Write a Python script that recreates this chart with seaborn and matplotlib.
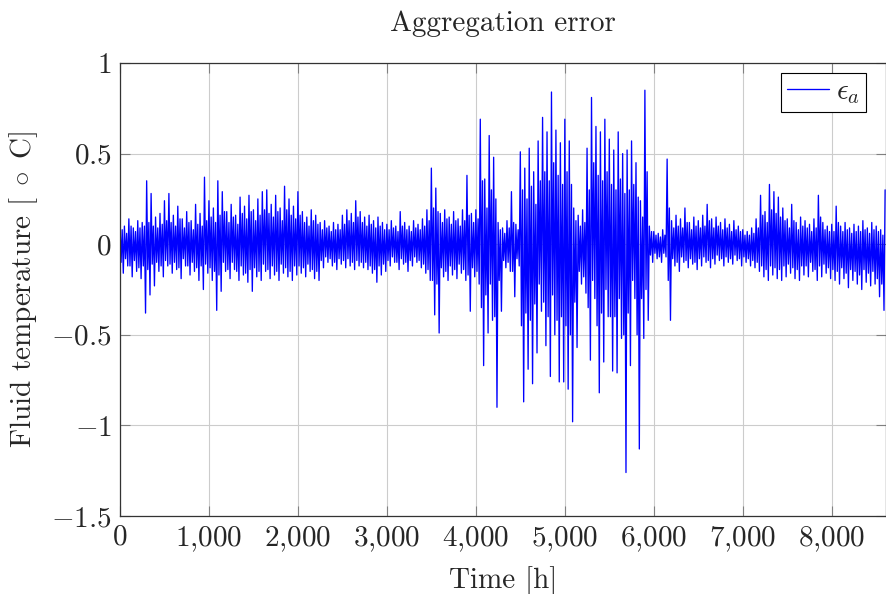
import numpy as np
import pandas as pd
import matplotlib
matplotlib.use("Agg")
import matplotlib.pyplot as plt
import seaborn as sns
from matplotlib.ticker import FixedLocator, FuncFormatter

# aggregation error per 50 h block:
# outer swings (hi / lo) and the bulk band edges (in_hi / in_lo)
hi_vals = [
    0.12, 0.10, 0.14, 0.09, 0.13, 0.12, 0.35, 0.28, 0.15, 0.17,
    0.24, 0.28, 0.16, 0.21, 0.14, 0.18, 0.13, 0.22, 0.17, 0.37,
    0.24, 0.20, 0.35, 0.29, 0.18, 0.22, 0.16, 0.26, 0.21, 0.27,
    0.19, 0.25, 0.29, 0.30, 0.22, 0.27, 0.20, 0.32, 0.25, 0.21,
    0.29, 0.18, 0.15, 0.19, 0.16, 0.12, 0.13, 0.10, 0.12, 0.11,
    0.16, 0.19, 0.17, 0.24, 0.18, 0.15, 0.16, 0.13, 0.15, 0.12,
    0.11, 0.13, 0.10, 0.18, 0.12, 0.10, 0.13, 0.11, 0.14, 0.19,
    0.42, 0.31, 0.17, 0.19, 0.15, 0.18, 0.14, 0.19, 0.38, 0.17,
    0.19, 0.69, 0.36, 0.60, 0.48, 0.12, 0.09, 0.13, 0.29, 0.11,
    0.51, 0.42, 0.53, 0.40, 0.57, 0.70, 0.62, 0.84, 0.63, 0.56,
    0.69, 0.57, 0.20, 0.16, 0.19, 0.53, 0.81, 0.65, 0.62, 0.69,
    0.58, 0.52, 0.62, 0.50, 0.52, 0.57, 0.45, 0.24, 0.85, 0.10,
    0.07, 0.06, 0.08, 0.47, 0.13, 0.16, 0.14, 0.20, 0.12, 0.15,
    0.13, 0.16, 0.22, 0.14, 0.15, 0.12, 0.14, 0.11, 0.13, 0.10,
    0.08, 0.07, 0.09, 0.14, 0.27, 0.18, 0.33, 0.29, 0.26, 0.20,
    0.14, 0.22, 0.12, 0.15, 0.13, 0.11, 0.14, 0.27, 0.12, 0.10,
    0.11, 0.21, 0.10, 0.12, 0.09, 0.11, 0.10, 0.13, 0.09, 0.12,
    0.10, 0.08,
]
lo_vals = [
    -0.16, -0.12, -0.18, -0.15, -0.19, -0.38, -0.28, -0.23, -0.15, -0.18,
    -0.12, -0.16, -0.14, -0.19, -0.12, -0.17, -0.15, -0.20, -0.25, -0.16,
    -0.20, -0.365, -0.26, -0.15, -0.19, -0.14, -0.20, -0.17, -0.21, -0.26,
    -0.18, -0.20, -0.15, -0.19, -0.17, -0.20, -0.16, -0.18, -0.20, -0.17,
    -0.16, -0.18, -0.15, -0.19, -0.20, -0.13, -0.10, -0.12, -0.14, -0.11,
    -0.13, -0.12, -0.14, -0.12, -0.13, -0.14, -0.16, -0.21, -0.17, -0.15,
    -0.12, -0.10, -0.14, -0.11, -0.15, -0.12, -0.10, -0.13, -0.16, -0.20,
    -0.39, -0.49, -0.18, -0.20, -0.17, -0.19, -0.16, -0.20, -0.37, -0.18,
    -0.22, -0.67, -0.49, -0.42, -0.90, -0.37, -0.13, -0.15, -0.29, -0.12,
    -0.87, -0.69, -0.77, -0.60, -0.37, -0.56, -0.73, -0.50, -0.76, -0.76,
    -0.80, -0.98, -0.57, -0.22, -0.27, -0.64, -0.30, -0.82, -0.65, -0.40,
    -0.70, -0.71, -0.52, -1.26, -0.67, -0.30, -1.13, -0.52, -0.42, -0.10,
    -0.08, -0.10, -0.07, -0.42, -0.12, -0.15, -0.10, -0.13, -0.11, -0.14,
    -0.12, -0.10, -0.13, -0.11, -0.09, -0.12, -0.10, -0.11, -0.09, -0.12,
    -0.10, -0.12, -0.13, -0.15, -0.18, -0.20, -0.17, -0.19, -0.20, -0.18,
    -0.16, -0.19, -0.20, -0.17, -0.18, -0.15, -0.20, -0.18, -0.16, -0.19,
    -0.20, -0.22, -0.19, -0.24, -0.20, -0.22, -0.25, -0.21, -0.23, -0.22,
    -0.29, -0.365,
]
in_hi_vals = [
    0.08, 0.06, 0.10, 0.07, 0.09, 0.10, 0.12, 0.10, 0.09, 0.11,
    0.13, 0.12, 0.10, 0.14, 0.09, 0.12, 0.08, 0.11, 0.10, 0.13,
    0.15, 0.12, 0.16, 0.18, 0.12, 0.15, 0.11, 0.17, 0.14, 0.18,
    0.13, 0.16, 0.19, 0.17, 0.15, 0.18, 0.13, 0.19, 0.16, 0.14,
    0.16, 0.12, 0.10, 0.13, 0.11, 0.08, 0.09, 0.07, 0.08, 0.08,
    0.11, 0.13, 0.12, 0.15, 0.12, 0.10, 0.11, 0.09, 0.10, 0.08,
    0.08, 0.09, 0.07, 0.10, 0.08, 0.07, 0.09, 0.08, 0.10, 0.13,
    0.20, 0.18, 0.12, 0.14, 0.11, 0.13, 0.10, 0.13, 0.16, 0.12,
    0.14, 0.35, 0.20, 0.30, 0.25, 0.08, 0.06, 0.09, 0.12, 0.08,
    0.30, 0.25, 0.32, 0.22, 0.35, 0.40, 0.35, 0.45, 0.38, 0.33,
    0.40, 0.33, 0.13, 0.10, 0.12, 0.30, 0.45, 0.38, 0.35, 0.40,
    0.33, 0.30, 0.36, 0.28, 0.30, 0.33, 0.26, 0.15, 0.40, 0.07,
    0.05, 0.04, 0.05, 0.20, 0.09, 0.10, 0.09, 0.12, 0.08, 0.10,
    0.09, 0.10, 0.13, 0.09, 0.10, 0.08, 0.09, 0.07, 0.08, 0.07,
    0.05, 0.05, 0.06, 0.09, 0.16, 0.12, 0.19, 0.17, 0.15, 0.13,
    0.09, 0.13, 0.08, 0.10, 0.09, 0.07, 0.09, 0.15, 0.08, 0.07,
    0.07, 0.12, 0.07, 0.08, 0.06, 0.07, 0.07, 0.08, 0.06, 0.08,
    0.07, 0.05,
]
in_lo_vals = [
    -0.10, -0.08, -0.12, -0.09, -0.13, -0.12, -0.14, -0.11, -0.10, -0.12,
    -0.09, -0.11, -0.10, -0.13, -0.08, -0.12, -0.10, -0.13, -0.12, -0.11,
    -0.13, -0.15, -0.17, -0.10, -0.14, -0.10, -0.15, -0.12, -0.16, -0.14,
    -0.13, -0.15, -0.11, -0.14, -0.12, -0.15, -0.11, -0.13, -0.15, -0.12,
    -0.12, -0.13, -0.11, -0.14, -0.15, -0.09, -0.07, -0.08, -0.10, -0.08,
    -0.09, -0.08, -0.10, -0.09, -0.10, -0.10, -0.12, -0.14, -0.12, -0.11,
    -0.09, -0.07, -0.10, -0.08, -0.10, -0.09, -0.07, -0.09, -0.11, -0.14,
    -0.20, -0.22, -0.13, -0.15, -0.12, -0.14, -0.11, -0.14, -0.17, -0.13,
    -0.15, -0.35, -0.28, -0.22, -0.40, -0.20, -0.09, -0.10, -0.15, -0.08,
    -0.45, -0.38, -0.42, -0.33, -0.22, -0.32, -0.40, -0.28, -0.42, -0.40,
    -0.45, -0.50, -0.32, -0.15, -0.18, -0.35, -0.20, -0.45, -0.38, -0.25,
    -0.40, -0.40, -0.30, -0.50, -0.38, -0.20, -0.50, -0.30, -0.25, -0.06,
    -0.05, -0.07, -0.05, -0.20, -0.08, -0.10, -0.07, -0.09, -0.08, -0.10,
    -0.08, -0.07, -0.09, -0.08, -0.06, -0.08, -0.07, -0.08, -0.06, -0.08,
    -0.07, -0.08, -0.09, -0.10, -0.12, -0.14, -0.12, -0.13, -0.14, -0.12,
    -0.11, -0.13, -0.14, -0.12, -0.12, -0.10, -0.14, -0.12, -0.11, -0.13,
    -0.14, -0.15, -0.13, -0.16, -0.14, -0.15, -0.17, -0.14, -0.16, -0.15,
    -0.19, -0.22,
]
last_hour = 8600
last_val = 0.30
block_h = 50

x_ticks = [0, 1000, 2000, 3000, 4000, 5000, 6000, 7000, 8000]
y_ticks = [-1.5, -1, -0.5, 0, 0.5, 1]

hours = []
vals = []
for i in range(len(hi_vals)):
    t0 = i * block_h
    hours += [t0, t0 + 12.5, t0 + 25, t0 + 37.5]
    vals += [hi_vals[i], in_lo_vals[i], in_hi_vals[i], lo_vals[i]]
hours.append(last_hour)
vals.append(last_val)
df = pd.DataFrame({"Time": hours, "err": vals})

sns.set_style("ticks")
plt.rcParams["font.family"] = ["cmr10", "DejaVu Serif"]
plt.rcParams["mathtext.fontset"] = "cm"
plt.rcParams["axes.unicode_minus"] = False
FS = 21

fig = plt.figure(figsize=(8.86, 5.94), dpi=100)
ax = fig.add_axes([0.1354, 0.1313, 0.8646, 0.7626])

sns.lineplot(data=df, x="Time", y="err", ax=ax, color="#0000ff", lw=0.95,
             estimator=None, sort=False, label=r"$\epsilon_a$")

ax.set_xlim(0, 8610)
ax.set_ylim(-1.5, 1)
ax.xaxis.set_major_locator(FixedLocator(x_ticks))
ax.yaxis.set_major_locator(FixedLocator(y_ticks))
ax.xaxis.set_major_formatter(FuncFormatter(lambda v, p: "$" + f"{int(v):,}".replace(",", "{,}") + "$"))
ax.yaxis.set_major_formatter(FuncFormatter(lambda v, p: "$" + ("%g" % v) + "$"))
ax.grid(True, color="#cccccc", lw=0.8)
ax.set_axisbelow(True)
ax.tick_params(direction="in", length=7, width=0.8, color="#808080",
               top=True, right=True, labelsize=FS, pad=6)
for s in ax.spines.values():
    s.set_color("#333333")
    s.set_linewidth(0.9)

ax.set_title("Aggregation error", fontsize=FS, pad=23)
ax.set_xlabel("Time [h]", fontsize=FS, labelpad=9)
ax.set_ylabel(r"Fluid temperature [$\;\circ\;$C]", fontsize=FS, labelpad=8)

leg = ax.legend(loc="upper right", bbox_to_anchor=(0.974, 0.978), borderaxespad=0,
                fontsize=FS, handlelength=1.45, fancybox=False, framealpha=1,
                edgecolor="black", borderpad=0.2, handletextpad=0.25)
leg.get_frame().set_linewidth(0.8)

fig.savefig("out.png", dpi=100)
